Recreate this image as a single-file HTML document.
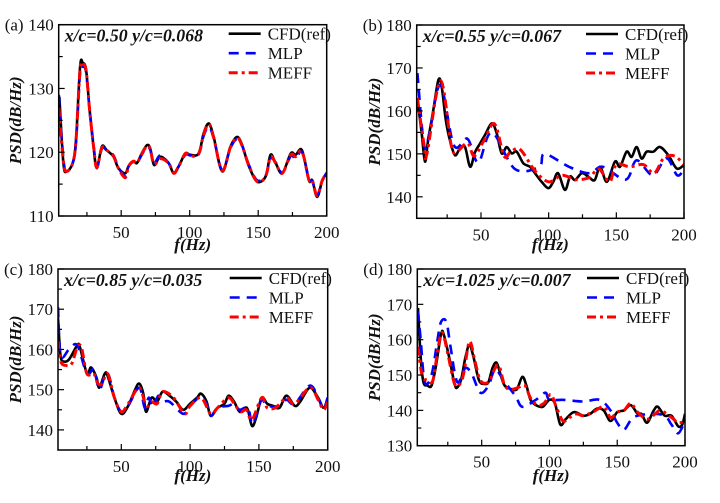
<!DOCTYPE html>
<html><head><meta charset="utf-8"><style>
body{margin:0;background:#fff;}
svg{display:block;font-family:"Liberation Serif",serif;}
</style></head><body>
<svg id="fig" width="720" height="503" viewBox="0 0 720 503"></svg>
<script>
// Panel (a)
const aCfdX=[4.9,7.8,10.2,14.6,17,20,22,24.4,26.8,29.8,32.2,35.9,39.5,44.4,48,52.9,55.4,59,61.5,65,68.8,71.2,74,78.5,84.6,88.3,92,96.8,100.5,106.6,110.2,114,117.5,123.7,129.8,134.6,138.3,143.2,149.3,155.4,159,162.7,167.6,173.7,177.3,182,187,189.5,193,196.8,200];
const aCfdY=[128.7,118.3,117,118.3,121.9,133.4,134,132.9,127,120.9,117.5,120.9,120.3,119.3,117.5,116.7,117.8,118.6,118.3,119.8,121.1,120.6,118,119.3,118.3,116.7,117.8,119.8,119.6,119.8,123,124.5,122.4,117,120.9,122.4,121.1,117.8,115.4,116.2,119.6,118.3,116.7,119.8,119.6,120.3,115.6,115.6,113,115.6,116.7];
const aMlpX=[4.5,7.8,10.2,14.6,17,20,22,24.4,26.8,29.8,32.2,35.9,39.5,44.4,48,52.9,55.4,59,61.5,65,68.8,71.2,74,78.5,84.6,88.3,92,96.8,100.5,106.6,110.2,114,117.5,123.7,129.8,134.6,138.3,143.2,149.3,155.4,159,162.7,167.6,173.7,177.3,182,187,189.5,193,196.8,200];
const aMlpY=[129,119,117,118.3,121.5,132.5,133.4,132.5,127,121.2,117.8,120.6,120.3,119.5,117.6,116.3,117.8,118.5,118.3,119.6,120.8,120.4,118.3,119.5,118.3,116.8,117.8,119.6,119.5,119.7,122.6,124,122.2,117.2,120.7,122.1,121,118,115.6,116.3,119,118.4,116.8,119.4,119,120,115.8,115.5,113.3,115.5,116.8];
const aMeffX=[4.5,7.8,10.2,14.6,17,20,22,24.4,26.8,29.8,32.2,35.9,39.5,44.4,48,52.9,55.4,59,61.5,65,68.8,71.2,74,78.5,84.6,88.3,92,96.8,100.5,106.6,110.2,114,117.5,123.7,129.8,134.6,138.3,143.2,149.3,155.4,159,162.7,167.6,173.7,177.3,182,187,189.5,193,196.8,200];
const aMeffY=[127,118.5,117,118.3,121.8,133,133.8,132.8,127,121,117.6,120.7,120.3,119.4,117.5,116,117.8,118.6,118.3,119.7,121,120.5,118.1,119,118.3,116.7,117.8,119.8,119.4,119.8,122.8,124.4,122.3,117.1,120.8,122.3,121,117.9,115.4,116.2,119.3,118.3,116.7,119.6,119.3,120.1,115.7,115.6,113.2,115.6,116.7];
// Panel (b)
const bCfdX=[3,6.2,8.6,11,14.8,18.5,21,24,27,30.8,34.5,38.2,42,45.6,49.3,53,58,61.6,65.3,69,72.7,76.4,81.3,86.2,89.9,94.8,99.8,103.4,107,112,115.8,119.5,124.4,129.3,134,138,143,149,152.7,157.6,161.3,165,168.7,172.4,177.3,182.3,188.4,194.6,200];
const bCfdY=[162.9,154.8,148.2,153.3,160.2,167.2,165.6,157.9,153.2,149.7,151.3,151.6,147,150.4,152.4,154.4,157.1,154.8,150.1,151.6,150.1,150.5,147.8,147,145.5,143.5,142,143.5,145.5,141.6,144.7,143.9,145.5,144.7,143.9,147,143.5,148.2,147,150.5,149.3,151.6,148.9,150.5,150.5,151.6,149.7,146.6,147.4];
const bMlpX=[3,8,12,20,30,40,48,58,75,93,97,115,130,140,157,165,177,187,195,200];
const bMlpY=[168.8,152,155,166,152,153.5,148,155,146.5,147,150,147,145.5,147,144,148.5,145,149,145,146.5];
const bMeffX=[3,8,10,20,28,32,40,45,52,60,67,72,79,90,100,110,120,130,137,145,150,160,170,178,185,193,200];
const bMeffY=[163,152,150,167,152,150.5,152.5,149.5,153,157,149.5,150.5,151,146,143.5,145,144,144.5,146.5,143.5,147.5,147,147.5,145.5,149,149.5,147.5];
// Panel (c)
const cCfdX=[4,5,6,8,12,18,20,25,28,32,34,38,40,45,50,55,60,63,66,68,72,76,80,85,90,95,100,105,108,112,115,120,125,128,132,136,140,142,145,148,152,156,160,165,170,176,180,187,193,197,200];
const cCfdY=[168,162,158,157,157.5,161,160.5,154,155.5,153,150.5,154,153.5,148,144,146,150,151.5,149,144.5,148,147,149.5,148.5,147,145,146.5,148,149,147,143.5,145.5,146.5,148.5,147,144.5,145.5,145,141,143,148,146.5,146,145.5,148.5,146,147,150.5,148,145.5,148];
const cMlpX=[4,6,12,18,25,30,34,38,41,45,50,55,63,67,70,73,77,80,85,95,100,107,112,115,120,128,132,136,142,145,148,152,156,165,170,176,187,193,197,200];
const cMlpY=[170.5,158.5,160,161,154,155,150,153.5,153.5,148,144.5,146,150.5,145.5,148,146,148.5,147,147,144,146,148,146.5,143.5,145.5,146,146.5,145,145.5,141.5,143.5,147.5,146,146,147.5,146.5,151,148,145,148];
const cMeffX=[4,6,10,14,18,21,25,30,33,36,40,45,50,55,63,68,72,76,80,88,96,100,108,115,120,128,133,137,141,145,152,156,162,170,176,187,193,197,200];
const cMeffY=[162,157,156,156.5,160.5,160.5,154,154,151.5,151.5,154,148,144.5,146.5,150.5,146,147,146.5,149.5,148,144,146,148,144,145.5,148,146,144.5,145,142.5,148,145.5,145.5,148,146.5,150.5,147.5,145,147];
// Panel (d)
const dCfdX=[3,5,7,10,13,16,20,22,26,30,32,35,38,41,44,48,52,55,58,61,64,67,72,76,80,83,86,90,95,100,104,108,112,118,125,130,135,140,145,150,155,160,165,168,172,177,180,185,190,195,198,200];
const dCfdY=[169,155,148,147,147,152,161.5,161.5,155,147.5,146.5,149,155,158.5,155,148.5,147.5,148,152,153.5,150,147,146,146,149.5,147,143,141.5,141,143,142,136,137.5,139.5,138.5,139,140.5,140,137,139.5,140,141.5,139,139,136.5,140,141,138.5,138.5,135.5,136,139];
const dMlpX=[3,5,8,13,17,20,24,27,32,38,43,49,55,60,67,75,80,90,97,100,110,125,137,145,150,155,162,175,185,190,195,200];
const dMlpY=[168,160,148,150,159,165,165,158,148,152,150,145,147,151.5,148,144,141,143,145,143,143,142.5,143,140,136.5,134.5,138,139,138.5,136,133.5,137];
const dMeffX=[3,6,10,14,18,21,25,30,34,37,41,45,49,55,60,63,67,72,77,82,86,91,96,101,105,110,115,120,125,132,140,145,150,155,160,165,172,178,182,190,195,200];
const dMeffY=[158,150,148.5,148.5,158,162,156,147.5,147.5,151,159.5,154,148.5,148,152,152.5,147,146,146.5,147,143.5,141.5,142,144.5,141,137,138,139,138.5,139.5,141,138,139.5,140,142,139.5,137.5,139,140,138,136.5,137];

const xTicks=[50,100,150,200];
const NS="http://www.w3.org/2000/svg";
const svg=document.getElementById('fig');
function mk(tag,attrs,parent){const e=document.createElementNS(NS,tag);for(const k in attrs)e.setAttribute(k,attrs[k]);(parent||svg).appendChild(e);return e;}
function smooth(pts){let d='M'+pts[0][0].toFixed(1)+','+pts[0][1].toFixed(1);
 for(let i=0;i<pts.length-1;i++){const p0=pts[Math.max(0,i-1)],p1=pts[i],p2=pts[i+1],p3=pts[Math.min(pts.length-1,i+2)];
 const c1x=p1[0]+(p2[0]-p0[0])/6,c1y=p1[1]+(p2[1]-p0[1])/6,c2x=p2[0]-(p3[0]-p1[0])/6,c2y=p2[1]-(p3[1]-p1[1])/6;
 d+=' C'+c1x.toFixed(1)+','+c1y.toFixed(1)+' '+c2x.toFixed(1)+','+c2y.toFixed(1)+' '+p2[0].toFixed(1)+','+p2[1].toFixed(1);}return d;}

const panels=[
 {id:'a',L:58.7,R:326.7,T:24.7,B:216,xmin:4.4,ymin:110,ymax:140,yt:[110,120,130,140],ym:[115,125,135],note:'x/c=0.50 y/c=0.068',ytx:15,xty:250,s:[[aCfdX,aCfdY],[aMlpX,aMlpY],[aMeffX,aMeffY]]},
 {id:'b',L:416.7,R:684,T:25,B:218.3,xmin:2.5,ymin:135,ymax:180,yt:[140,150,160,170,180],ym:[145,155,165,175],note:'x/c=0.55 y/c=0.067',ytx:374,xty:250,s:[[bCfdX,bCfdY],[bMlpX,bMlpY],[bMeffX,bMeffY]]},
 {id:'c',L:58,R:327.7,T:269,B:450,xmin:4,ymin:135,ymax:180,yt:[140,150,160,170,180],ym:[145,155,165,175],note:'x/c=0.85 y/c=0.035',ytx:15,xty:481,s:[[cCfdX,cCfdY],[cMlpX,cMlpY],[cMeffX,cMeffY]]},
 {id:'d',L:417.3,R:685,T:269,B:445.7,xmin:2.5,ymin:130,ymax:180,yt:[130,140,150,160,170,180],ym:[135,145,155,165,175],note:'x/c=1.025 y/c=0.007',ytx:374,xty:481,s:[[dCfdX,dCfdY],[dMlpX,dMlpY],[dMeffX,dMeffY]]}
];
const styles=[
 {c:'#000',w:2.6,da:'',name:'cfd-ref-line',lab:'CFD(ref)'},
 {c:'#0000ff',w:2.6,da:'10,7',name:'mlp-line',lab:'MLP'},
 {c:'#ff0000',w:3,da:'9,4,3,4',name:'meff-line',lab:'MEFF'}
];
panels.forEach(p=>{
 const g=mk('g',{});
 
 
 const sx=v=>p.L+(v-p.xmin)/(200-p.xmin)*(p.R-p.L);
 const sy=v=>p.B-(v-p.ymin)/(p.ymax-p.ymin)*(p.B-p.T);
 const cp=mk('clipPath',{id:'clip'+p.id},g);mk('rect',{x:p.L,y:p.T,width:p.R-p.L,height:p.B-p.T},cp);
 p.s.forEach((sr,i)=>{const st=styles[i];const pts=sr[0].map((x,j)=>[sx(x),sy(sr[1][j])]);
  const path=mk('path',{d:smooth(pts),fill:'none',stroke:st.c,'stroke-width':st.w,'stroke-dasharray':st.da,'stroke-linejoin':'round','clip-path':'url(#clip'+p.id+')'},g);
  
  });
 const fr=mk('rect',{x:p.L,y:p.T,width:p.R-p.L,height:p.B-p.T,fill:'none',stroke:'#000','stroke-width':1.5},g);
 
 
 for(let v=25;v<=200;v+=25){const x=sx(v);const major=v%50===0;mk('line',{x1:x,x2:x,y1:p.B,y2:p.B-(major?6:4),stroke:'#000','stroke-width':1.2},g);}
 xTicks.forEach(v=>{const t=mk('text',{x:sx(v),y:p.B+22,'text-anchor':'middle','font-size':17,fill:'#111'},g);t.textContent=v;
  
  });
 p.yt.forEach(v=>{const y=sy(v);mk('line',{x1:p.L,x2:p.L+6,y1:y,y2:y,stroke:'#000','stroke-width':1.2},g);
  const t=mk('text',{x:p.L-5,y:y+6,'text-anchor':'end','font-size':17,fill:'#111'},g);t.textContent=v;
  
  });
 p.ym.forEach(v=>{const y=sy(v);mk('line',{x1:p.L,x2:p.L+4,y1:y,y2:y,stroke:'#000','stroke-width':1.2},g);});
 const pl=mk('text',{x:p.L-54,y:p.T+6,'font-size':17,fill:'#111'},g);pl.textContent='('+p.id+')';
 
 
 const nt=mk('text',{x:p.L+6,y:p.T+17,'font-size':17.8,'font-weight':'bold','font-style':'italic',fill:'#111'},g);nt.textContent=p.note;
 
 
 const yt=mk('text',{x:p.ytx+6,y:(p.T+p.B)/2,'text-anchor':'middle','font-size':17,'font-weight':'bold','font-style':'italic',fill:'#111',transform:'rotate(-90 '+(p.ytx+6)+' '+((p.T+p.B)/2)+')'},g);yt.textContent='PSD(dB/Hz)';
 
 
 const xt=mk('text',{x:(p.L+p.R)/2,y:p.xty,'text-anchor':'middle','font-size':17,'font-weight':'bold','font-style':'italic',fill:'#111'},g);xt.textContent='f(Hz)';
 
 
 styles.forEach((st,i)=>{const y=p.T+9+i*19.5;const lx=p.R-98;
  const ln=mk('line',{x1:lx,x2:lx+32,y1:y,y2:y,stroke:st.c,'stroke-width':st.w,'stroke-dasharray':st.da},g);
  
  
  const t=mk('text',{x:lx+39,y:y+6,'font-size':17,fill:'#111'},g);t.textContent=st.lab;
  
  });
});
</script>
</body></html>
